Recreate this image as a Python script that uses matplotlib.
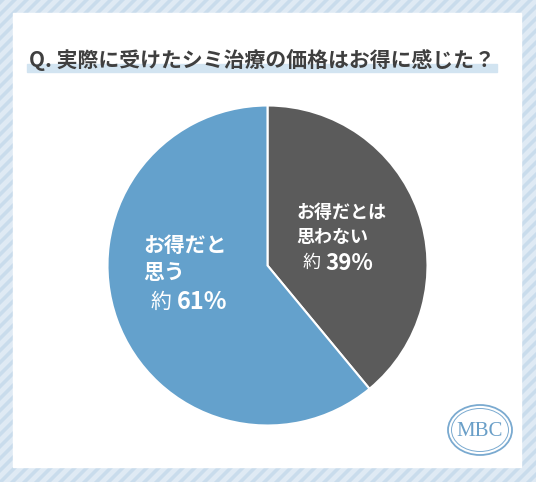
"""
Pie chart: Q. 実際に受けたシミ治療の価格はお得に感じた？
"""
import matplotlib
matplotlib.use("Agg")
import matplotlib.pyplot as plt
from matplotlib.patches import Rectangle, Polygon, Ellipse

plt.rcParams['font.family'] = ['Noto Sans CJK JP', 'DejaVu Sans']

# Data
title = "Q. 実際に受けたシミ治療の価格はお得に感じた？"
categories = ["お得だとは\n思わない", "お得だと\n思う"]
shares = [39, 61]
colors = ["#5b5b5b", "#64a1cc"]

W, H = 536, 482
fig = plt.figure(figsize=(W / 100, H / 100), dpi=100)

# Background with diagonal stripes, in pixel coordinates
bg = fig.add_axes([0, 0, 1, 1])
bg.set_xlim(0, W)
bg.set_ylim(H, 0)
bg.axis('off')
bg.add_patch(Rectangle((0, 0), W, H, color="#dfeaf4", zorder=0))
period = 12
for x0 in range(-H, W + period, period):
    bg.add_patch(Polygon([(x0, H), (x0 + 5, H), (x0 + 5 + H, 0), (x0 + H, 0)],
                         closed=True, color="#c9dcec", lw=0, zorder=1))

# White card
bg.add_patch(Rectangle((13, 13), 508, 454, color="white", zorder=2))

# Title with highlight bar
bg.add_patch(Rectangle((27, 64), 470, 8, color="#d2e4f1", zorder=3))
bg.text(262, 60, title, ha='center', va='center', fontsize=15,
        fontweight='bold', color="#3f3f3f", zorder=4)

# MBC logo
bg.add_patch(Ellipse((480, 430), 64, 50, fill=False, ec="#7aaad0", lw=1.3, zorder=4))
bg.add_patch(Ellipse((480, 430), 57, 43, fill=False, ec="#7aaad0", lw=0.7, zorder=4))
bg.text(480, 431, "MBC", ha='center', va='center', fontsize=15,
        family='Liberation Serif', color="#6a9fc8", zorder=5)

# Pie
cx, cy, r = 267.5, 265.5, 160
ax = fig.add_axes([(cx - r) / W, (H - cy - r) / H, 2 * r / W, 2 * r / H])
ax.pie(shares, colors=colors, startangle=90, counterclock=False,
       wedgeprops=dict(edgecolor='white', linewidth=1.5))
ax.set_xlim(-1, 1)
ax.set_ylim(-1, 1)
ax.set_aspect('equal')
ax.axis('off')

# Labels on an overlay axes so they sit above the pie
top = fig.add_axes([0, 0, 1, 1])
top.set_xlim(0, W)
top.set_ylim(H, 0)
top.axis('off')
top.patch.set_alpha(0)

top.text(296, 225, categories[0], ha='left', va='center', fontsize=13,
         fontweight='bold', color='white', linespacing=1.45)
top.text(321, 263, "約", ha='right', va='center', fontsize=13, color='white')
top.text(325, 263, f"{shares[0]}%", ha='left', va='center', fontsize=16,
         fontweight='bold', color='white')

top.text(143, 259, categories[1], ha='left', va='center', fontsize=15,
         fontweight='bold', color='white', linespacing=1.3)
top.text(171, 302, "約", ha='right', va='center', fontsize=15, color='white')
top.text(177, 302, f"{shares[1]}%", ha='left', va='center', fontsize=17,
         fontweight='bold', color='white')

plt.savefig("out.png", dpi=100)
plt.close()
